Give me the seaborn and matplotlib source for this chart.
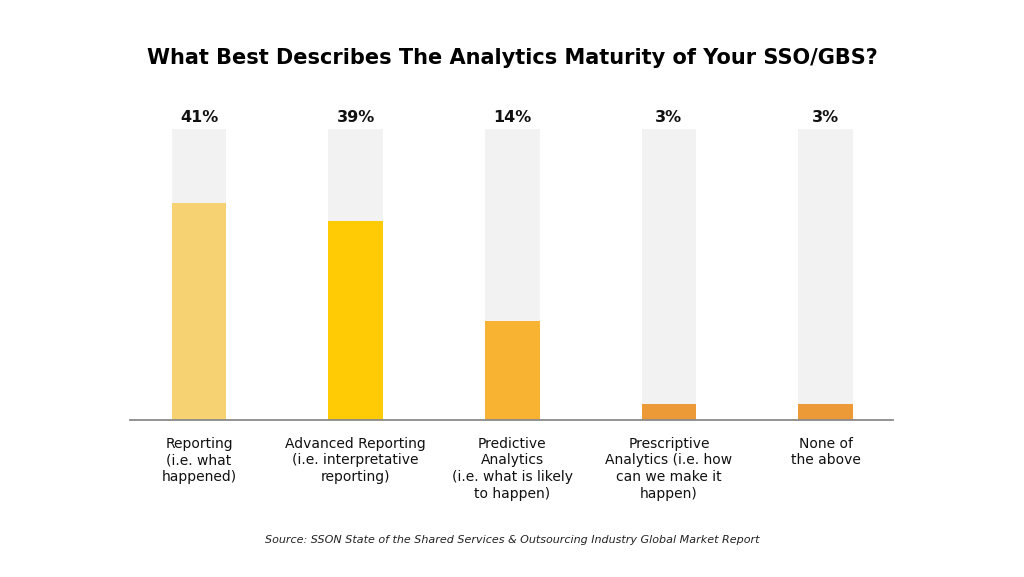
import matplotlib
matplotlib.use("Agg")
import matplotlib.pyplot as plt
import seaborn as sns
import pandas as pd

categories = [
    "Reporting\n(i.e. what\nhappened)",
    "Advanced Reporting\n(i.e. interpretative\nreporting)",
    "Predictive\nAnalytics\n(i.e. what is likely\nto happen)",
    "Prescriptive\nAnalytics (i.e. how\ncan we make it\nhappen)",
    "None of\nthe above",
]
label_values = [41, 39, 14, 3, 3]          # printed percentages
bar_heights = [41, 37.6, 18.7, 3, 3]       # heights as drawn in the picture
track_max = 55                              # height of the grey track bars
bar_colors = ["#F6D272", "#FFCB05", "#F8B332", "#EC9A38", "#EC9A38"]

sns.set_theme(style="white")
plt.rcParams["font.family"] = ["DejaVu Sans"]

df = pd.DataFrame({"cat": categories, "value": bar_heights,
                   "track": [track_max] * len(categories)})

fig = plt.figure(figsize=(10.24, 5.77), dpi=100)
ax = fig.add_axes([0.127, 0.272, 0.745, 0.504])

sns.barplot(data=df, x="cat", y="track", color="#F2F2F2", width=0.35,
            saturation=1, linewidth=0, ax=ax)
sns.barplot(data=df, x="cat", y="value", hue="cat", palette=bar_colors,
            width=0.35, saturation=1, legend=False, linewidth=0, ax=ax)

ax.set_ylim(0, track_max)
ax.set_xlim(-0.44, 4.43)
ax.set_xlabel("")
ax.set_ylabel("")
ax.set_yticks([])
ax.set_xticks(range(len(categories)))
ax.set_xticklabels(categories, fontsize=10, linespacing=1.25, color="#111111")
ax.tick_params(axis="x", length=0, pad=12)
for s in ["top", "right", "left"]:
    ax.spines[s].set_visible(False)
ax.spines["bottom"].set_color("#8a8a8a")
ax.spines["bottom"].set_linewidth(1.3)

for i, v in enumerate(label_values):
    ax.text(i, track_max * 1.015, f"{v}%", ha="center", va="bottom",
            fontsize=11.5, fontweight="bold", color="#111111")

fig.text(0.5, 0.9, "What Best Describes The Analytics Maturity of Your SSO/GBS?",
         ha="center", va="center", fontsize=15, fontweight="bold", color="#000000")
fig.text(0.5, 0.064,
         "Source: SSON State of the Shared Services & Outsourcing Industry Global Market Report",
         ha="center", va="center", fontsize=8, style="italic", color="#222222")

fig.savefig("out.png", dpi=100, facecolor="white")
